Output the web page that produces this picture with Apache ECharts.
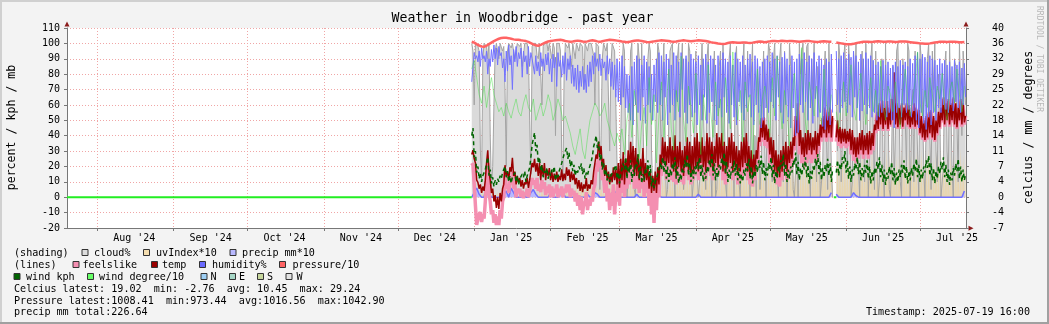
<!DOCTYPE html>
<html><head><meta charset="utf-8">
<script src="https://cdn.jsdelivr.net/npm/echarts@6/dist/echarts.min.js"></script>
<style>
html,body{margin:0;padding:0;background:#f3f3f3;}
#c{width:1049px;height:324px;}
</style></head><body><div id="c"></div>
<script>
// ---------- axis / tick labels ----------
const leftTickLabels = ["-20","-10","0","10","20","30","40","50","60","70","80","90","100","110"];
const rightTickLabels = ["-7","-4","0","4","7","11","14","18","22","25","29","32","36","40"];
const monthStarts = ["2024-08-01","2024-09-01","2024-10-01","2024-11-01","2024-12-01","2025-01-01","2025-02-01","2025-03-01","2025-04-01","2025-05-01","2025-06-01","2025-07-01"];
const labelDates = ["2024-08-16","2024-09-16","2024-10-16","2024-11-16","2024-12-16","2025-01-16","2025-02-16","2025-03-16","2025-04-16","2025-05-16","2025-06-16","2025-07-16"];
const xTickLabels = ["Aug '24","Sep '24","Oct '24","Nov '24","Dec '24","Jan '25","Feb '25","Mar '25","Apr '25","May '25","Jun '25","Jul '25"];
const rangeStart = "2024-07-19T16:00:00Z", rangeEnd = "2025-07-19T16:00:00Z";
const dataStart = "2024-12-31T00:00:00Z";   // first sample; 12-hourly (00:00,12:00) and daily series
const noDataSpans = [["2024-07-19T16:00:00Z","2024-12-31T00:00:00Z"],["2025-05-27T00:00:00Z","2025-05-28T00:00:00Z"]];

// ---------- 12-hourly series (night, day) ----------
const temp = [10,11, 9,8, 4,3.5, 2,3, 1,2.5, 1.5,4, 8,11, 6,4, 1,2, -1,0.5,
-2.5,0, -2.76,1, -1,2, 3,7.5, 5,6, 4,7, 6,9.2, 5,6, 3,5, 3.5,4.5,
2.5,4, 2,3.5, 3,4.5, 2.2,4, 4,8, 7,9, 6,8, 5,8, 4,7.5, 5,8,
4,6.5, 5,6.8, 4,6, 3.6,5.5, 4,6, 3.6,5, 4,6.5, 3.8,5.5, 4,7, 5,6.5,
3.6,6, 4,5.5, 3,4.5, 2,4, 1.5,3.5, 1.2,3, 2,4.5, 1.5,3, 2,4, 3,6,
6,10, 9,13, 10,12, 7,9, 5,7.5, 4,6, 3,5.5, 3.5,7, 4,6.5, 3,8,
2.2,9, 4,10.6, 3,9, 5,11, 6,13, 7,12, 5,11.5, 5,10, 4,9, 5,11.5,
3.6,8, 4,7, 2,6, 1,5, 1.5,6, 1,7, 3,10, 7.5,14, 8,13, 7.5,12,
8,14, 7,12, 6,14.5, 5,12, 7,13, 6,11, 5,12, 7,14, 6,13, 5,12,
6,14, 7,15, 6,13, 8,14, 7,12, 6,15, 8,14, 7,13, 6,12, 8,15,
7,14, 9,15, 6,13, 5.5,12, 7,14, 8,15, 6,13, 7,12, 5.5,11, 6,13,
7,14, 8,15, 6,12, 5,11, 4.7,10, 6,11, 9,14, 13,18.5, 14,18.7, 13.4,17,
13,16, 10,14, 8,13.4, 6,11, 5,10, 4.7,11, 6,12, 7,13, 6,12, 8,13,
9,14, 12,19, 15,22, 12,15.7, 10,14, 9.4,15, 10,15.7, 11,15, 10,14, 11,15.5,
10,15, 12,17, 14,19, 15,21, 14,20, 15,21, 14,19, null,null, 14,18, 13,16.4,
12.6,16, 13,16, 12.6,15.5, 13,16, 11,15.7, 10,14, 9.4,14, 10,15, 11,15.7, 10,14.5,
11,15, 10,15.5, 11,15, 12,17, 15.7,20, 16,22, 17,22.7, 16,21, 17,22.5, 16,21,
17,23, 18,29.24, 17,22, 16.4,21, 17,22, 16.5,21, 18,22, 17,21.5, 16.4,20, 17,22,
16.5,21, 17,20.4, 15,19, 14,18, 13.4,19, 14,20, 15,20.4, 14,19, 13.4,18, 15,20,
16.4,21, 18,23.4, 17,22, 18,23, 17,22, 18,23.4, 17,22, 16.4,21, 18,23, 17,22, 17.5,19.02];

const feelslike = [8,7.5, 3,-2, -6.5,-5, -4,-3.5, -5.8,-4, -5,-1, 4,8, 1,-1, -4,-3, -6,-4,
-6.5,-4.5, -6.5,-3, -5,-1, 0,6, 2,3, 1,4, 3,6, 2,3, 0,2, 1,2,
0,1.5, -0.2,1, 0.5,2, 0,1.5, 1.2,4.5, 3,4, 2,4.5, 1.5,3, 1.2,4, 2,3.5,
0.5,2.5, 1,3, 0,2.5, 0,2, 1,3, 0,2, 0.5,2.5, 0,2, 1,3, 1.2,3,
0,2, 0.5,1.5, -1,1, -2,0.5, -3,0, -4,-1, -2,1.2, -3,-0.5, -2,0, -1,2,
3,8, 6,10.5, 7,9, 4,5, 1,4, -1,2, -3,1, -2,3, -4,1, -1,5,
-2,6, 1,8, 0,6, 2,9, 3,10, 4,9, 2,8, 2,7, 1,6, 2,9,
0,5, 1,4, -2,3, -4,1, -6,2, -3,3.6, 0,7, 5,12, 6,10.5, 4,9,
5,11, 4,10, 3.6,12, 3,10, 4,11, 3.6,9, 3,10, 5,12, 4,11, 3,10,
4,12, 5,13, 4,11, 6,12, 5,10, 4,13, 6,12, 5,11, 4,10, 6,13,
5,12, 7,13, 4,11, 3,10, 5,12, 6,13, 4,11, 5,10, 3,9, 4,11,
5,12, 6,13, 4,10, 3,9, 2.5,8, 4,9, 7,13, 12,18, 13,18.5, 12,16.5,
11.5,15, 8,12, 6,11, 4,9, 3,8, 2.5,9, 4,10, 5,11, 4,10, 6,11,
7,12, 11,19, 14,22, 10,14, 8,12, 7,13, 8,14, 9,13, 8,12, 9,14,
8,13, 11,16, 13,18.5, 14,20.5, 13,19.5, 14,20.5, 13,18.5, null,null, 13,17, 12,15.5,
11.5,15, 12,15, 11.5,14.5, 12,15, 10,14.5, 8.5,13, 8,13, 9,14, 10,14.5, 9,13.5,
10,14, 9,14.5, 10,14, 11,16, 15,19.5, 15.5,21.5, 16.5,22.5, 15.5,20.5, 16.5,22.5, 15.5,20.5,
16.5,23, 17.5,28, 16.5,21.5, 16,20.5, 16.5,21.5, 16,20.5, 17.5,21.5, 16.5,21, 16,19.5, 16.5,21.5,
16,20.5, 16.5,20, 14.5,18.5, 13.5,17.5, 13,18.5, 13.5,19.5, 14.5,20, 13.5,18.5, 13,17.5, 14.5,19.5,
16,20.5, 17.5,23, 16.5,21.5, 17.5,22.5, 16.5,21.5, 17.5,23, 16.5,21.5, 16,20.5, 17.5,22.5, 16.5,21.5, 17,19];

const humidity = [75,85, 94,90, 92,88, 95,85, 97,90, 92,88, 95,80, 90,85, 96,88, 99,90,
97,86, 98,92, 94,84, 90,75, 95,82, 99,86, 92,70, 96,88, 98,85, 94,90,
97,78, 95,88, 92,80, 98,85, 94,90, 90,80, 92,82, 88,79, 94,85, 90,82,
93,86, 94,80, 90,75, 93,84, 91,72, 94,85, 89,78, 92,80, 94,76, 90,83,
92,74, 86,72, 84,70, 86,68, 82,72, 85,70, 80,68, 86,72, 88,75, 92,80,
94,85, 90,82, 93,79, 90,84, 88,76, 92,80, 90,72, 88,70, 86,65, 90,62,
88,60, 92,65, 85,58, 80,55, 79,50, 85,47, 88,60, 92,55, 90,50, 86,65,
92,48, 88,60, 85,55, 80,50, 86,62, 90,55, 94,60, 92,50, 88,65, 93,47,
90,55, 86,60, 94,50, 92,62, 88,52, 94,70, 90,55, 92,48, 88,60, 93,52,
90,55, 88,47, 92,60, 86,50, 90,65, 93,48, 88,55, 92,62, 90,50, 86,47,
92,58, 89,52, 94,65, 90,55, 88,48, 92,60, 86,52, 94,47, 90,62, 88,55,
92,50, 86,58, 90,65, 93,52, 88,47, 92,60, 90,55, 85,45, 88,50, 90,58,
92,55, 88,62, 94,58, 90,50, 92,65, 88,55, 91,48, 94,60, 90,52, 86,45,
92,58, 88,40, 90,42, 93,60, 90,55, 94,62, 88,50, 92,58, 90,48, 94,64,
88,52, 92,55, 90,46, 86,44, 90,50, 88,47, 93,55, null,null, 95,60, 90,55,
92,58, 94,62, 90,55, 93,60, 91,52, 95,65, 92,58, 88,50, 93,56, 90,60,
94,54, 90,58, 92,52, 89,55, 86,50, 88,52, 85,55, 89,58, 86,52, 88,55,
84,50, 86,45, 88,55, 85,58, 89,52, 86,60, 88,55, 85,57, 90,52, 87,56,
92,50, 94,45, 90,55, 93,48, 91,44, 88,52, 92,47, 90,55, 89,50, 86,58,
90,55, 87,60, 89,57, 86,55, 88,60, 85,56, 89,62, 86,58, 88,55, 84,60, 87,65];

const cloud = [100,95, 60,100, 100,98, 95,30, 10,90, 100,100, 98,90, 100,40, 5,20, 60,95,
100,100, 90,100, 100,95, 98,70, 20,95, 100,100, 97,100, 100,90, 95,100, 100,98,
100,85, 92,100, 100,100, 95,50, 15,98, 100,100, 100,92, 90,100, 100,60, 98,100,
100,100, 95,100, 100,90, 100,97, 40,100, 100,100, 95,30, 10,80, 100,100, 97,100,
100,85, 100,100, 90,100, 100,95, 100,100, 98,70, 100,100, 95,100, 100,100, 100,92,
60,100, 100,98, 5,40, 90,100, 100,95, 100,100, 30,85, 100,100, 95,60, 20,5,
0,40, 80,100, 95,30, 0,10, 60,95, 100,20, 5,0, 70,100, 90,50, 100,100,
10,0, 40,90, 100,95, 30,5, 0,20, 60,100, 95,60, 20,80, 100,40, 0,5,
50,95, 98,100, 20,0, 60,90, 100,30, 80,100, 5,20, 90,50, 100,95, 30,0,
10,70, 95,20, 0,10, 80,100, 60,30, 5,90, 100,50, 20,0, 70,95, 0,5,
40,85, 95,30, 100,70, 10,0, 60,90, 100,20, 30,0, 90,98, 50,10, 0,40,
85,100, 20,60, 95,30, 0,80, 100,10, 40,0, 90,60, 5,20, 70,95, 30,0,
80,100, 95,40, 10,90, 100,60, 20,0, 90,100, 50,10, 95,70, 0,30, 100,85,
60,5, 0,20, 40,0, 100,80, 95,100, 30,60, 98,100, 20,0, 90,70, 100,40,
10,85, 60,0, 0,20, 80,95, 40,5, 100,60, 20,0, null,null, 70,30, 100,90,
10,40, 90,100, 60,20, 100,85, 0,10, 95,70, 100,40, 20,0, 80,95, 50,10,
100,60, 0,30, 90,100, 40,5, 95,60, 0,10, 70,90, 20,0, 100,50, 60,5,
0,30, 85,10, 40,95, 100,60, 10,0, 90,80, 50,20, 100,95, 0,40, 70,10,
95,60, 30,0, 100,90, 60,20, 0,50, 90,100, 40,5, 95,70, 100,30, 10,80,
60,0, 0,20, 85,95, 30,10, 100,60, 20,0, 90,85, 50,10, 100,70, 40,95, 80,60];

const uvIndex10 = [0,2, 0,3, 0,2, 0,3, 0,4, 0,2, 0,3, 0,3, 0,4, 0,2,
0,3, 0,4, 0,3, 0,2, 0,4, 0,3, 0,5, 0,3, 0,2, 0,4,
0,3, 0,4, 0,5, 0,3, 0,4, 0,5, 0,4, 0,3, 0,5, 0,4,
0,5, 0,5, 0,6, 0,4, 0,6, 0,7, 0,5, 0,6, 0,8, 0,7,
0,5, 0,6, 0,8, 0,7, 0,9, 0,6, 0,8, 0,7, 0,9, 0,10,
0,8, 0,7, 0,9, 0,10, 0,8, 0,9, 0,11, 0,10, 0,12, 0,10,
0,12, 0,9, 0,13, 0,11, 0,14, 0,12, 0,10, 0,15, 0,13, 0,11,
0,14, 0,16, 0,12, 0,10, 0,15, 0,13, 0,17, 0,14, 0,16, 0,12,
0,18, 0,15, 0,13, 0,17, 0,19, 0,16, 0,14, 0,18, 0,20, 0,17,
0,19, 0,15, 0,21, 0,18, 0,16, 0,22, 0,20, 0,17, 0,23, 0,19,
0,21, 0,24, 0,18, 0,22, 0,20, 0,25, 0,23, 0,19, 0,21, 0,26,
0,24, 0,20, 0,18, 0,25, 0,22, 0,27, 0,23, 0,26, 0,21, 0,28,
0,25, 0,22, 0,27, 0,24, 0,20, 0,28, 0,26, 0,23, 0,29, 0,25,
0,27, 0,30, 0,24, 0,21, 0,28, 0,26, 0,30, 0,23, 0,27, 0,29,
0,25, 0,31, 0,28, 0,24, 0,30, 0,27, 0,22, null,null, 0,31, 0,26,
0,28, 0,30, 0,27, 0,25, 0,31, 0,29, 0,24, 0,28, 0,32, 0,30,
0,26, 0,29, 0,33, 0,27, 0,31, 0,28, 0,25, 0,30, 0,32, 0,29,
0,34, 0,31, 0,27, 0,30, 0,33, 0,28, 0,26, 0,31, 0,29, 0,32,
0,30, 0,28, 0,31, 0,27, 0,30, 0,33, 0,29, 0,26, 0,31, 0,28,
0,32, 0,30, 0,27, 0,33, 0,29, 0,31, 0,28, 0,30, 0,32, 0,27, 0,29];

const windKph = [40,45, 26,30, 16,20, 12,16, 10,14, 14,18, 22,26, 14,18, 9,13, 7,11,
8,12, 10,14, 12,16, 16,20, 13,17, 10,14, 9,13, 12,16, 10,14, 8,12,
11,15, 13,17, 10,14, 15,19, 26,34, 38,42, 30,34, 22,26, 17,21, 13,17,
15,19, 12,16, 14,18, 16,20, 11,15, 13,17, 18,22, 22,28, 28,32, 25,29,
20,24, 17,21, 14,18, 16,20, 18,22, 15,19, 12,16, 14,18, 19,23, 27,33,
36,40, 32,36, 24,28, 18,22, 14,18, 11,15, 10,14, 13,17, 17,21, 12,16,
9,15, 14,22, 18,26, 12,20, 16,24, 10,18, 14,22, 20,28, 12,20, 9,15,
11,19, 16,24, 13,21, 7,13, 6,10, 9,15, 14,22, 18,26, 16,24, 12,20,
10,18, 14,22, 18,26, 12,20, 9,15, 11,19, 16,24, 20,28, 14,22, 10,18,
12,20, 15,23, 18,26, 13,21, 10,16, 12,20, 16,24, 20,28, 14,22, 11,19,
13,21, 18,26, 21,29, 15,23, 10,18, 12,20, 16,24, 14,22, 11,19, 9,15,
10,18, 14,22, 17,25, 12,20, 9,17, 13,21, 16,24, 19,27, 15,23, 11,19,
14,22, 18,26, 13,21, 9,17, 12,20, 16,24, 20,28, 14,22, 10,18, 12,20,
16,24, 21,29, 15,23, 11,19, 14,22, 18,26, 13,21, 9,17, 12,20, 17,25,
20,28, 15,23, 11,19, 13,21, 17,25, 14,22, 10,18, null,null, 16,24, 14,22,
18,26, 22,30, 16,24, 12,20, 10,18, 14,22, 18,26, 15,23, 11,19, 13,21,
16,24, 12,20, 9,17, 11,19, 15,23, 18,26, 13,21, 10,18, 8,16, 12,20,
15,23, 11,19, 8,16, 10,18, 13,21, 16,24, 12,20, 9,17, 11,19, 14,22,
17,25, 13,21, 10,18, 12,20, 16,24, 19,27, 14,22, 11,19, 9,17, 12,20,
15,23, 18,26, 13,21, 10,18, 8,16, 11,19, 14,22, 17,25, 12,20, 10,18, 11,15];

// ---------- daily series ----------
const pressure10 = [101.2,100.5,99.5,98.6,98.0,97.8,98.5,99.5,100.5,101.5,
102.3,103.0,103.5,103.7,103.6,103.4,103.0,102.6,102.4,102.3,
102.0,101.8,101.5,101.0,100.2,99.4,98.8,98.5,99.0,99.8,
100.6,101.2,101.5,101.8,102.0,102.2,102.3,102.0,101.6,101.3,
101.0,101.2,101.5,101.8,101.6,101.2,101.0,101.3,101.8,102.0,
101.7,101.3,101.0,101.4,101.8,102.1,102.3,102.2,102.0,101.8,
101.5,101.2,101.0,100.8,101.0,101.4,101.7,101.9,101.8,101.5,
101.2,100.9,100.8,101.0,101.3,101.6,101.8,102.0,101.9,101.7,
101.5,101.2,101.0,101.2,101.5,101.8,102.0,101.8,101.6,101.4,
101.6,101.8,102.0,101.9,101.7,101.5,101.2,100.8,100.5,100.2,
99.9,99.7,99.6,99.8,100.2,100.6,100.8,100.6,100.4,100.4,
100.5,100.6,100.4,100.3,100.5,100.8,101.0,101.2,101.0,100.8,
101.0,101.3,101.5,101.6,101.4,101.5,101.7,101.6,101.4,101.5,
101.6,101.4,101.2,101.0,101.2,101.4,101.6,101.5,101.3,101.1,
100.9,101.0,101.2,101.4,101.3,101.1,101.0,null,100.6,100.3,
100.0,99.7,99.5,99.4,99.4,99.7,100.1,100.5,100.8,101.0,
101.1,101.0,100.9,101.0,101.2,101.4,101.3,101.1,101.0,101.2,
101.3,101.1,100.9,101.0,101.2,101.3,101.2,101.0,100.8,100.6,
100.4,100.2,100.0,99.9,99.8,99.8,100.0,100.3,100.6,100.8,
101.0,101.1,101.0,100.9,101.0,101.1,101.0,100.9,100.8,100.8,100.84];

const windDeg10 = [30,32,28,24,22,26,21,25,28,24, 22,20,21,19,22,20,18.5,21,23,20,
19,22,24,21,20,23,18,20,22,19, 21,24,22,18,20,23,21,18,19,17,
15,12,10,13,16,11,9,14,18,20, 22,21,19,20,22,18,16,14,12,15,
13,16,10,18,22,14,25,20,9,17, 21,12,28,17,24,8,19,27,14,22,
30,16,11,25,20,33,18,13,26,21, 15,29,22,10,24,18,31,20,14,27,
19,23,12,28,21,16,34,22,18,25, 13,27,20,24,9,22,30,17,23,26,
21,14,28,19,33,22,16,25,20,12, 24,29,18,22,35,20,15,27,23,19,
26,21,17,30,22,19,24,null,20,16, 22,27,19,25,31,21,18,24,29,22,
17,23,28,20,25,19,32,22,18,26, 24,20,27,21,16,25,30,22,19,23,
27,34,22,19,25,21,28,24,20,26, 23,29,21,18,25,27,22,30,24,20,26];

const precip10 = [0,3,6,2,0,0,8,3,0,0, 0,0,0,2,4,0,6,3,0,0,
0,2,0,0,3,5,2,0,0,0, 0,0,3,0,0,0,2,4,0,0,
0,0,0,0,0,0,0,2,0,0, 3,2,0,0,0,1,0,3,4,0,
0,0,0,0,0,0,0,2,0,0, 0,0,0,0,0,0,1,0,0,0,
0,0,0,0,0,0,0,0,0,0, 0,0,2,0,0,0,0,0,0,0,
0,0,0,0,0,0,0,0,0,0, 0,0,0,0,0,0,0,0,0,0,
0,0,0,0,0,0,0,0,0,0, 0,0,0,0,0,0,0,0,0,0,
0,0,0,0,0,0,3,null,2,0, 0,0,0,0,0,3,1,0,0,0,
0,0,0,0,0,0,0,0,0,0, 0,0,0,0,0,0,0,0,0,0,
0,0,0,0,0,0,0,0,0,0, 0,0,0,0,0,0,0,0,0,0,4];

const statLines = ["Celcius latest: 19.02  min: -2.76  avg: 10.45  max: 29.24",
  "Pressure latest:1008.41  min:973.44  avg:1016.56  max:1042.90",
  "precip mm total:226.64"];
const timestampText = "Timestamp: 2025-07-19 16:00";

// ---------- build ----------
const ms = s => Date.parse(s.length === 10 ? s + "T00:00:00Z" : s);
const T0 = ms(dataStart), H12 = 12 * 3600e3, D1 = 24 * 3600e3;
const half = a => a.map((v, i) => [T0 + i * H12, v]);
const daily = a => a.map((v, i) => [T0 + i * D1, v]);
const noData = [];
noDataSpans.forEach((s, k) => { if (k) noData.push([ms(s[0]), null]); noData.push([ms(s[0]), 0], [ms(s[1]), 0]); });
const labelTimes = labelDates.map(ms);

const C = {
  cloud: '#dcdcdc', uv: '#f5deb0', precip: '#b9b9ff', feels: '#f48fb1', temp: '#990000',
  hum: '#6b6bff', press: '#ff6464', wkph: '#006400', wdeg: '#66ff66',
  N: '#9fd0f5', E: '#a6d6c6', S: '#c6d69c', W: '#e2e2e2'
};
const MONO = '"DejaVu Sans Mono", monospace';
const gridPink = { color: '#f0a6a6', type: [1, 2], width: 1 };

const base = { type: 'line', showSymbol: false, symbol: 'none', silent: true, animation: false, xAxisIndex: 0 };
const series = [
  Object.assign({}, base, { name: 'cloud%', yAxisIndex: 0, data: half(cloud), lineStyle: { color: '#a4a4a4', width: 1 }, areaStyle: { color: '#dadada', opacity: 1 } }),
  Object.assign({}, base, { name: 'uvIndex*10', yAxisIndex: 0, data: half(uvIndex10), lineStyle: { width: 0 }, areaStyle: { color: '#f0d49a', opacity: 0.65 } }),
  Object.assign({}, base, { name: 'precip mm*10', yAxisIndex: 0, data: daily(precip10), lineStyle: { color: '#6f6fff', width: 1.5 }, areaStyle: { color: C.precip, opacity: 1 } }),
  Object.assign({}, base, { name: 'feelslike', yAxisIndex: 1, data: half(feelslike), lineStyle: { color: C.feels, width: 3.5 } }),
  Object.assign({}, base, { name: 'temp', yAxisIndex: 1, data: half(temp), lineStyle: { color: C.temp, width: 1.5 } }),
  Object.assign({}, base, { name: 'humidity%', yAxisIndex: 0, data: half(humidity), lineStyle: { color: '#7272ff', width: 1 } }),
  Object.assign({}, base, { name: 'pressure/10', yAxisIndex: 0, data: daily(pressure10), lineStyle: { color: C.press, width: 2.5 } }),
  Object.assign({}, base, { name: 'wind kph', yAxisIndex: 0, data: half(windKph), lineStyle: { color: C.wkph, width: 1.5, type: [4, 3] } }),
  Object.assign({}, base, { name: 'wind degree/10', yAxisIndex: 1, data: daily(windDeg10), lineStyle: { color: 'rgba(50,225,50,0.42)', width: 1 } }),
  Object.assign({}, base, { name: 'nodata', yAxisIndex: 0, data: noData, lineStyle: { color: '#22ee22', width: 2 } })
];

// ---------- legend / text graphics ----------
const g = [];
const txt = (x, y, s, o) => g.push({ type: 'text', x, y, silent: true, style: Object.assign({ text: s, fontFamily: MONO, fontSize: 10.1, fill: '#000', verticalAlign: 'middle' }, o || {}) });
const box = (x, y, c) => g.push({ type: 'rect', silent: true, shape: { x: x + 0.5, y: y - 3.5, width: 6, height: 6 }, style: { fill: c, stroke: '#333', lineWidth: 1 } });
g.push({ type: 'rect', silent: true, shape: { x: 0, y: 0, width: 1049, height: 2 }, style: { fill: '#d0d0d0' } });
g.push({ type: 'rect', silent: true, shape: { x: 0, y: 0, width: 2, height: 324 }, style: { fill: '#d0d0d0' } });
g.push({ type: 'rect', silent: true, shape: { x: 0, y: 322, width: 1049, height: 2 }, style: { fill: '#a0a0a0' } });
g.push({ type: 'rect', silent: true, shape: { x: 1047, y: 0, width: 2, height: 324 }, style: { fill: '#a0a0a0' } });
txt(522.5, 19, 'Weather in Woodbridge - past year', { fontSize: 13.2, align: 'center' });
g.push({ type: 'text', x: 11.5, y: 127.5, rotation: Math.PI / 2, silent: true, style: { text: 'percent / kph / mb', fontFamily: MONO, fontSize: 11.6, fill: '#000', align: 'center', verticalAlign: 'middle' } });
g.push({ type: 'text', x: 1028.5, y: 127.5, rotation: Math.PI / 2, silent: true, style: { text: 'celcius / mm / degrees', fontFamily: MONO, fontSize: 11.6, fill: '#000', align: 'center', verticalAlign: 'middle' } });
g.push({ type: 'text', x: 1039.5, y: 59, rotation: -Math.PI / 2, silent: true, style: { text: 'RRDTOOL / TOBI OETIKER', fontFamily: MONO, fontSize: 8, fill: '#b8b8b8', align: 'center', verticalAlign: 'middle' } });
g.push({ type: 'polygon', silent: true, shape: { points: [[64.5, 26.5], [69.5, 26.5], [67, 21.5]] }, style: { fill: '#8b1c1c' } });
g.push({ type: 'polygon', silent: true, shape: { points: [[963.5, 26.5], [968.5, 26.5], [966, 21.5]] }, style: { fill: '#8b1c1c' } });
g.push({ type: 'polygon', silent: true, shape: { points: [[968.5, 225.8], [968.5, 230.8], [973.5, 228.3]] }, style: { fill: '#8b1c1c' } });
txt(14, 253, '(shading)'); box(81.5, 253, C.cloud); txt(94, 253, 'cloud%'); box(143, 253, C.uv); txt(156, 253, 'uvIndex*10'); box(229.5, 253, C.precip); txt(242, 253, 'precip mm*10');
txt(14, 265, '(lines)'); box(72.5, 265, C.feels); txt(82.5, 265, 'feelslike'); box(151, 265, C.temp); txt(162, 265, 'temp'); box(199, 265, C.hum); txt(212, 265, 'humidity%'); box(279, 265, C.press); txt(292.5, 265, 'pressure/10');
box(13.5, 277, C.wkph); txt(26, 277, 'wind kph'); box(87, 277, C.wdeg); txt(99, 277, 'wind degree/10'); box(200.5, 277, C.N); txt(210.5, 277, 'N'); box(229, 277, C.E); txt(239, 277, 'E'); box(257, 277, C.S); txt(267, 277, 'S'); box(285.5, 277, C.W); txt(296.5, 277, 'W');
txt(14, 289, statLines[0]); txt(14, 301, statLines[1]); txt(14, 312.5, statLines[2]);
txt(1030, 312.5, timestampText, { align: 'right' });

const chart = echarts.init(document.getElementById('c'), null, { renderer: 'canvas' });
chart.setOption({
  animation: false,
  backgroundColor: '#f3f3f3',
  grid: { left: 67, right: 83, top: 28, bottom: 96, containLabel: false, outerBoundsMode: 'none', show: true, backgroundColor: '#ffffff', borderWidth: 0 },
  xAxis: [{
    type: 'value', min: ms(rangeStart), max: ms(rangeEnd), scale: true,
    axisLine: { show: true, onZero: false, lineStyle: { color: '#777', width: 1 } },
    axisTick: { show: true, length: 3, customValues: monthStarts.map(ms), lineStyle: { color: '#777' } },
    axisLabel: { customValues: labelTimes, margin: 5, color: '#000', fontFamily: MONO, fontSize: 10,
      formatter: v => { const i = labelTimes.indexOf(v); return i >= 0 ? xTickLabels[i] : ''; } },
    splitLine: { show: true, lineStyle: gridPink }
  }],
  yAxis: [{
    type: 'value', position: 'left', min: -20, max: 110, interval: 10,
    axisLine: { show: true, lineStyle: { color: '#777', width: 1 } },
    axisTick: { show: true, length: 3, lineStyle: { color: '#777' } },
    axisLabel: { margin: 7, color: '#000', fontFamily: MONO, fontSize: 10, formatter: (v, i) => leftTickLabels[i] },
    splitLine: { show: true, lineStyle: gridPink }
  }, {
    type: 'value', position: 'right', min: -7.2, max: 39.6, interval: 3.6,
    axisLine: { show: true, lineStyle: { color: '#777', width: 1 } },
    axisTick: { show: true, length: 3, lineStyle: { color: '#777' } },
    axisLabel: { margin: 38, align: 'right', color: '#000', fontFamily: MONO, fontSize: 10, formatter: (v, i) => rightTickLabels[i] },
    splitLine: { show: false }
  }],
  series,
  graphic: g
});
</script></body></html>
